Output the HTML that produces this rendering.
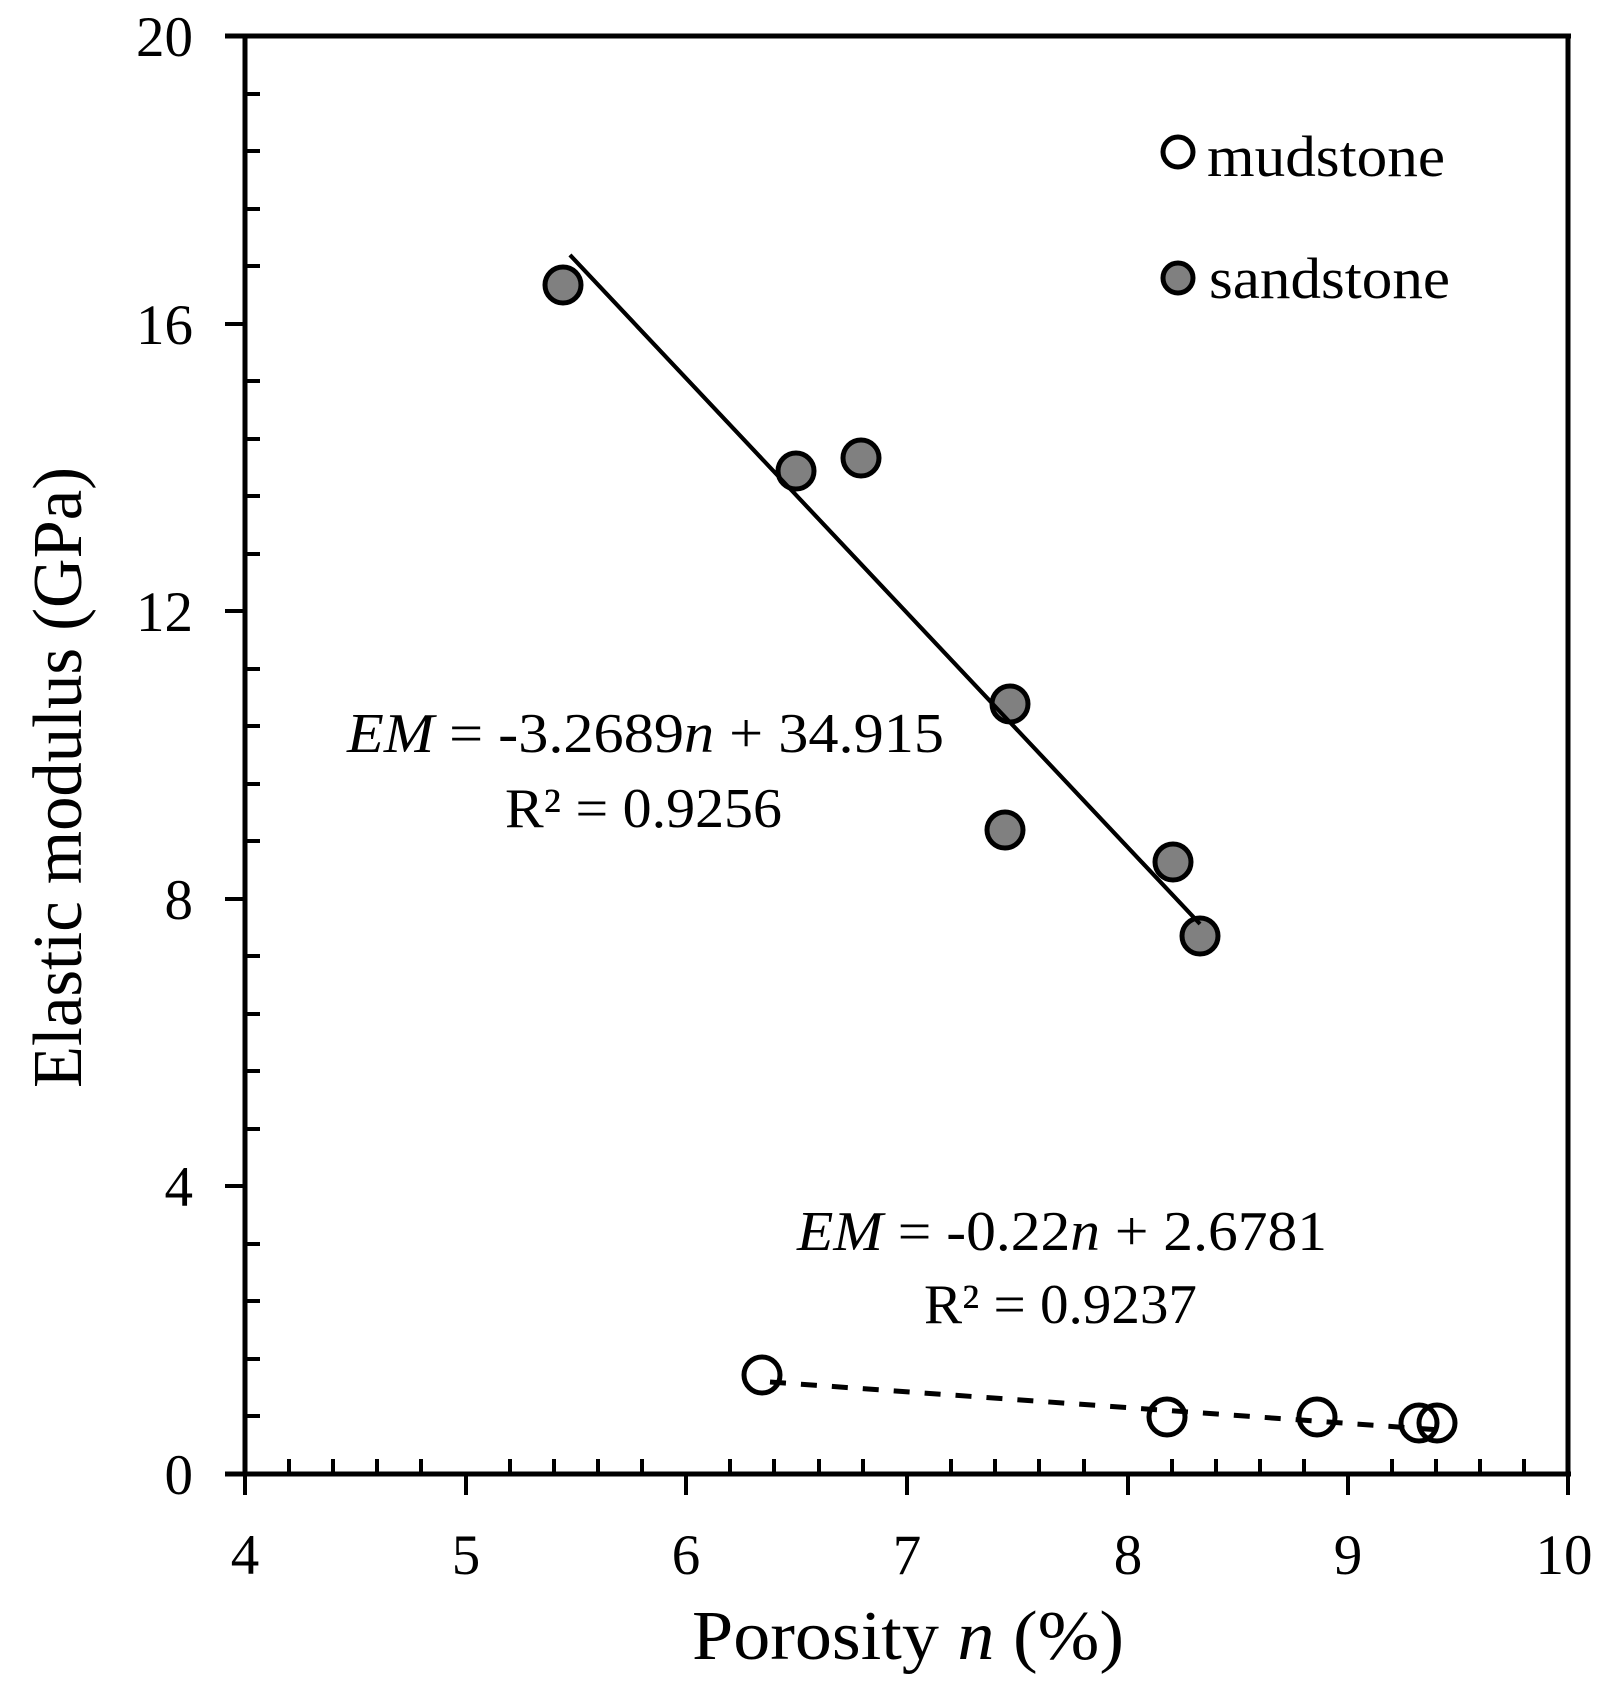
<!DOCTYPE html>
<html><head><meta charset="utf-8"><style>html,body{margin:0;padding:0;background:#fff}svg{display:block}</style></head>
<body>
<svg width="1622" height="1693" viewBox="0 0 1622 1693" xmlns="http://www.w3.org/2000/svg" font-family="'Liberation Serif', serif" fill="#000">
<g stroke="#000" stroke-width="5" fill="none">
<line x1="225" y1="36" x2="1571" y2="36"/>
<line x1="1568" y1="34" x2="1568" y2="1476"/>
<line x1="245" y1="34" x2="245" y2="1476"/>
<line x1="225" y1="1474" x2="1571" y2="1474"/>
</g>
<g stroke="#000" stroke-width="4" id="ticks"></g>
<g font-size="57" text-anchor="end">
<text x="193" y="1494">0</text>
<text x="193" y="1206">4</text>
<text x="193" y="919">8</text>
<text x="193" y="631">12</text>
<text x="193" y="344">16</text>
<text x="193" y="56">20</text>
</g>
<g font-size="57" text-anchor="middle">
<text x="245" y="1574">4</text>
<text x="466" y="1574">5</text>
<text x="686" y="1574">6</text>
<text x="907" y="1574">7</text>
<text x="1128" y="1574">8</text>
<text x="1348" y="1574">9</text>
<text x="1564" y="1574">10</text>
</g>
<text x="692" y="1659" font-size="70" textLength="432" lengthAdjust="spacingAndGlyphs">Porosity <tspan font-style="italic">n</tspan> (%)</text>
<text transform="translate(81,1088) rotate(-90)" font-size="70" textLength="621" lengthAdjust="spacingAndGlyphs">Elastic modulus (GPa)</text>
<line x1="570" y1="255" x2="1200" y2="924" stroke="#000" stroke-width="4"/>
<g fill="#808080" stroke="#000" stroke-width="5">
<circle cx="563" cy="285" r="18"/>
<circle cx="796" cy="471" r="18"/>
<circle cx="861" cy="458" r="18"/>
<circle cx="1010" cy="704" r="18"/>
<circle cx="1005" cy="830" r="18"/>
<circle cx="1173" cy="862" r="18"/>
<circle cx="1200" cy="936" r="18"/>
</g>
<line x1="570" y1="255" x2="1200" y2="924" stroke="#000" stroke-width="4"/>
<g fill="none" stroke="#000" stroke-width="5">
<circle cx="762" cy="1375" r="18"/>
<circle cx="1167" cy="1417" r="18"/>
<circle cx="1317" cy="1417" r="18"/>
<circle cx="1419" cy="1423" r="18"/>
<circle cx="1437" cy="1423" r="18"/>
</g>
<line x1="770" y1="1382" x2="1440" y2="1430" stroke="#000" stroke-width="5" stroke-dasharray="16,15"/>
<text x="347" y="752" font-size="56" textLength="597" lengthAdjust="spacingAndGlyphs"><tspan font-style="italic">EM</tspan> = -3.2689<tspan font-style="italic">n</tspan>  + 34.915</text>
<text x="505" y="827" font-size="56" textLength="277" lengthAdjust="spacingAndGlyphs">R² = 0.9256</text>
<text x="797" y="1250" font-size="56" textLength="530" lengthAdjust="spacingAndGlyphs"><tspan font-style="italic">EM</tspan> = -0.22<tspan font-style="italic">n</tspan>  + 2.6781</text>
<text x="924" y="1323" font-size="56" textLength="273" lengthAdjust="spacingAndGlyphs">R² = 0.9237</text>
<circle cx="1178" cy="152" r="15" fill="#fff" stroke="#000" stroke-width="5"/>
<circle cx="1178" cy="278" r="15" fill="#808080" stroke="#000" stroke-width="5"/>
<text x="1207" y="176" font-size="58" textLength="238" lengthAdjust="spacingAndGlyphs">mudstone</text>
<text x="1209" y="298" font-size="58" textLength="241" lengthAdjust="spacingAndGlyphs">sandstone</text>
<g stroke="#000" stroke-width="4">
<line x1="245" y1="1474" x2="245" y2="1495"/><line x1="466" y1="1474" x2="466" y2="1495"/><line x1="686" y1="1474" x2="686" y2="1495"/><line x1="907" y1="1474" x2="907" y2="1495"/><line x1="1128" y1="1474" x2="1128" y2="1495"/><line x1="1348" y1="1474" x2="1348" y2="1495"/><line x1="1568" y1="1474" x2="1568" y2="1495"/>
<line x1="289" y1="1474" x2="289" y2="1459"/><line x1="333" y1="1474" x2="333" y2="1459"/><line x1="377" y1="1474" x2="377" y2="1459"/><line x1="421" y1="1474" x2="421" y2="1459"/>
<line x1="510" y1="1474" x2="510" y2="1459"/><line x1="554" y1="1474" x2="554" y2="1459"/><line x1="598" y1="1474" x2="598" y2="1459"/><line x1="642" y1="1474" x2="642" y2="1459"/>
<line x1="730" y1="1474" x2="730" y2="1459"/><line x1="774" y1="1474" x2="774" y2="1459"/><line x1="819" y1="1474" x2="819" y2="1459"/><line x1="863" y1="1474" x2="863" y2="1459"/>
<line x1="951" y1="1474" x2="951" y2="1459"/><line x1="995" y1="1474" x2="995" y2="1459"/><line x1="1039" y1="1474" x2="1039" y2="1459"/><line x1="1084" y1="1474" x2="1084" y2="1459"/>
<line x1="1172" y1="1474" x2="1172" y2="1459"/><line x1="1216" y1="1474" x2="1216" y2="1459"/><line x1="1260" y1="1474" x2="1260" y2="1459"/><line x1="1304" y1="1474" x2="1304" y2="1459"/>
<line x1="1392" y1="1474" x2="1392" y2="1459"/><line x1="1436" y1="1474" x2="1436" y2="1459"/><line x1="1480" y1="1474" x2="1480" y2="1459"/><line x1="1524" y1="1474" x2="1524" y2="1459"/>
<line x1="225" y1="1186" x2="245" y2="1186"/><line x1="225" y1="899" x2="245" y2="899"/><line x1="225" y1="611" x2="245" y2="611"/><line x1="225" y1="324" x2="245" y2="324"/>
<line x1="245" y1="1416" x2="260" y2="1416"/><line x1="245" y1="1359" x2="260" y2="1359"/><line x1="245" y1="1301" x2="260" y2="1301"/><line x1="245" y1="1244" x2="260" y2="1244"/>
<line x1="245" y1="1129" x2="260" y2="1129"/><line x1="245" y1="1071" x2="260" y2="1071"/><line x1="245" y1="1014" x2="260" y2="1014"/><line x1="245" y1="956" x2="260" y2="956"/>
<line x1="245" y1="841" x2="260" y2="841"/><line x1="245" y1="784" x2="260" y2="784"/><line x1="245" y1="726" x2="260" y2="726"/><line x1="245" y1="669" x2="260" y2="669"/>
<line x1="245" y1="554" x2="260" y2="554"/><line x1="245" y1="496" x2="260" y2="496"/><line x1="245" y1="439" x2="260" y2="439"/><line x1="245" y1="381" x2="260" y2="381"/>
<line x1="245" y1="266" x2="260" y2="266"/><line x1="245" y1="209" x2="260" y2="209"/><line x1="245" y1="151" x2="260" y2="151"/><line x1="245" y1="94" x2="260" y2="94"/>
</g>
</svg>
</body></html>
